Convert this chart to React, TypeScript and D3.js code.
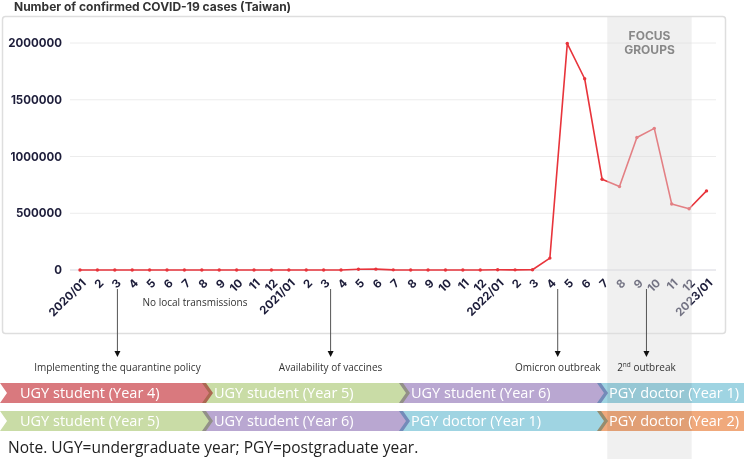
import * as d3 from "d3";
import React, { useEffect, useRef } from "react";

// monthly confirmed cases, 2020/01 .. 2023/01
const months = [
  "2020/01", "2", "3", "4", "5", "6", "7", "8", "9", "10", "11", "12",
  "2021/01", "2", "3", "4", "5", "6", "7", "8", "9", "10", "11", "12",
  "2022/01", "2", "3", "4", "5", "6", "7", "8", "9", "10", "11", "12",
  "2023/01",
];
const cases = [
  10, 29, 283, 107, 13, 5, 21, 30, 22, 80, 105, 95,
  111, 26, 63, 119, 6500, 7600, 1200, 400, 250, 240, 300, 530,
  1700, 1200, 2500, 105000, 1995000, 1685000, 800000, 735000, 1168000, 1248000, 582000, 540000,
  697000,
];
const yTicks = [0, 500000, 1000000, 1500000, 2000000];

// events in month-index units (fractions place the arrow between ticks)
const events = [
  { at: 2.15, label: "Implementing the quarantine policy" },
  { at: 14.4, label: "Availability of vaccines" },
  { at: 27.45, label: "Omicron outbreak" },
  { at: 32.55, label: "2nd outbreak" },
];
const focusSpan = [30.3, 35.15];

// training stage of the two cohorts
const cohortA = ["UGY student (Year 4)", "UGY student (Year 5)", "UGY student (Year 6)", "PGY doctor (Year 1)"];
const cohortB = ["UGY student (Year 5)", "UGY student (Year 6)", "PGY doctor (Year 1)", "PGY doctor (Year 2)"];
const stageColor: Record<string, string> = {
  "UGY student (Year 4)": "#d9797e",
  "UGY student (Year 5)": "#c9dca6",
  "UGY student (Year 6)": "#b9a7d1",
  "PGY doctor (Year 1)": "#9fd4e2",
  "PGY doctor (Year 2)": "#f0a97c",
};

const W = 744;
const H = 459;
const NAVY = "#1d1d3a";

export default function App() {
  const ref = useRef<SVGSVGElement | null>(null);

  useEffect(() => {
    const svg = d3.select(ref.current);
    svg.selectAll("*").remove();

    const x = d3.scaleLinear().domain([0, months.length - 1]).range([80, 706.5]);
    const y = d3.scaleLinear().domain([0, 2000000]).range([270, 43]);

    // panel
    svg.append("rect")
      .attr("x", 2.5).attr("y", 16.5).attr("width", 723).attr("height", 317)
      .attr("rx", 3)
      .attr("fill", "#fff").attr("stroke", "#dedede").attr("stroke-width", 1.5);

    svg.append("text")
      .attr("x", 14).attr("y", 11)
      .attr("font-family", "Inter, sans-serif").attr("font-weight", 700)
      .attr("font-size", 12).attr("fill", "#333")
      .text("Number of confirmed COVID-19 cases (Taiwan)");

    // grid + y labels
    const grid = svg.append("g");
    yTicks.forEach((t) => {
      grid.append("line")
        .attr("x1", 70).attr("x2", 716)
        .attr("y1", y(t)).attr("y2", y(t))
        .attr("stroke", t === 0 ? "#d6d6de" : "#ececec").attr("stroke-width", 1);
      grid.append("text")
        .attr("x", 62).attr("y", y(t)).attr("dy", "0.35em")
        .attr("text-anchor", "end")
        .attr("font-family", "Inter, sans-serif").attr("font-weight", 700)
        .attr("font-size", 11.5).attr("fill", NAVY)
        .text(t);
    });

    // x labels, rotated
    svg.append("g").selectAll("text")
      .data(months)
      .enter()
      .append("text")
      .attr("transform", (_, i) => `translate(${x(i) + 4},${281}) rotate(-45)`)
      .attr("text-anchor", "end")
      .attr("dy", "0.35em")
      .attr("font-family", "Inter, sans-serif").attr("font-weight", 700)
      .attr("font-size", 11.5).attr("fill", NAVY)
      .text((d) => d);

    svg.append("text")
      .attr("x", 195).attr("y", 306)
      .attr("text-anchor", "middle")
      .attr("font-family", "Open Sans, sans-serif").attr("font-size", 10)
      .attr("fill", "#333")
      .text("No local transmissions");

    // series
    const line = d3.line<number>().x((_, i) => x(i)).y((d) => y(d));
    svg.append("path")
      .attr("d", line(cases) ?? "")
      .attr("fill", "none").attr("stroke", "#e8343b").attr("stroke-width", 1.6)
      .attr("stroke-linejoin", "round");
    svg.append("g").selectAll("circle")
      .data(cases)
      .enter()
      .append("circle")
      .attr("cx", (_, i) => x(i)).attr("cy", (d) => y(d))
      .attr("r", 1.7).attr("fill", "#e8343b");

    // focus-group period overlay
    const fx0 = x(focusSpan[0]);
    const fx1 = x(focusSpan[1]);
    svg.append("rect")
      .attr("x", fx0).attr("y", 17)
      .attr("width", fx1 - fx0).attr("height", H - 17)
      .attr("fill", "#dedede").attr("opacity", 0.45);
    svg.append("text")
      .attr("text-anchor", "middle")
      .attr("font-family", "Inter, sans-serif").attr("font-weight", 700)
      .attr("font-size", 12).attr("fill", "#888")
      .selectAll("tspan")
      .data(["FOCUS", "GROUPS"])
      .enter()
      .append("tspan")
      .attr("x", (fx0 + fx1) / 2)
      .attr("y", (_, i) => 40 + i * 14)
      .text((d) => d);

    // event arrows
    const ev = svg.append("g");
    events.forEach((e) => {
      const ex = x(e.at);
      ev.append("line")
        .attr("x1", ex).attr("x2", ex).attr("y1", 289).attr("y2", 352)
        .attr("stroke", "#555").attr("stroke-width", 1);
      ev.append("path")
        .attr("d", `M${ex - 3},${351} L${ex + 3},${351} L${ex},${357} Z`)
        .attr("fill", "#111");
      const t = ev.append("text")
        .attr("x", ex).attr("y", 371)
        .attr("text-anchor", "middle")
        .attr("font-family", "Open Sans, sans-serif").attr("font-size", 10)
        .attr("fill", "#333");
      if (e.label.startsWith("2nd")) {
        t.append("tspan").text("2");
        t.append("tspan").attr("font-size", 6.5).attr("dy", -4).text("nd");
        t.append("tspan").attr("dy", 4).text(" outbreak");
      } else {
        t.text(e.label);
      }
    });

    // chevron rows
    const bounds = [0, 205, 402, 600, 760];
    const depth = 7;
    const drawRow = (labels: string[], top: number) => {
      const g = svg.append("g");
      const h = 20;
      labels.forEach((lab, k) => {
        const left = k === 0 ? 0 : bounds[k] - 3;
        const right = bounds[k + 1] + 1;
        const pts: [number, number][] = [
          [left, top], [right, top], [right + depth, top + h / 2],
          [right, top + h], [left, top + h], [left + depth, top + h / 2],
        ];
        g.append("path")
          .attr("d", d3.line()(pts) + "Z")
          .attr("fill", stageColor[lab])
          .style("mix-blend-mode", "multiply");
      });
      labels.forEach((lab, k) => {
        g.append("text")
          .attr("x", bounds[k] + (k === 0 ? 20 : 9)).attr("y", top + h / 2).attr("dy", "0.36em")
          .attr("font-family", "Open Sans, sans-serif").attr("font-size", 14.5)
          .attr("fill", "#fff")
          .text(lab);
      });
    };
    drawRow(cohortA, 383);
    drawRow(cohortB, 411);

    svg.append("text")
      .attr("x", 8).attr("y", 453)
      .attr("font-family", "Open Sans, sans-serif").attr("font-size", 15.5)
      .attr("fill", "#222")
      .text("Note. UGY=undergraduate year; PGY=postgraduate year.");
  }, []);

  return (
    <svg
      ref={ref}
      width={W}
      height={H}
      style={{ position: "absolute", left: 0, top: 0, background: "#fff" }}
    />
  );
}
